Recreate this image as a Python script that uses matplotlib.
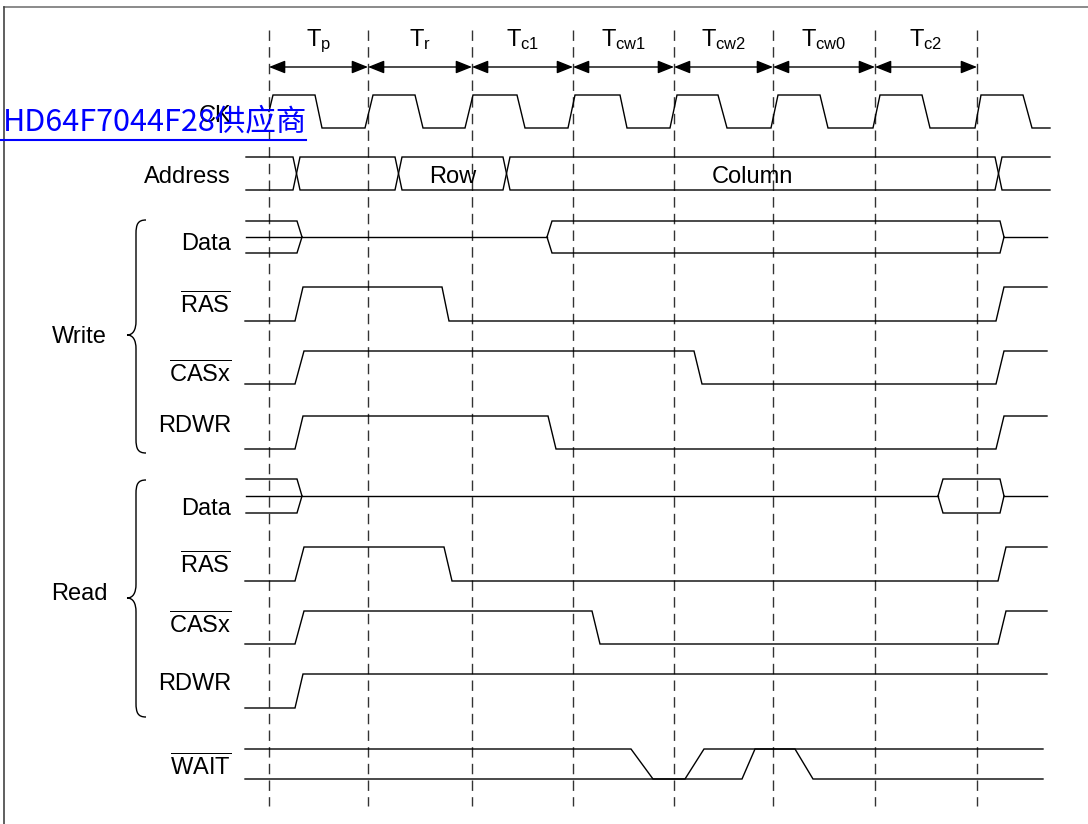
import numpy as np
import matplotlib.pyplot as plt
from matplotlib.path import Path
from matplotlib.patches import PathPatch

plt.rcParams['font.family'] = ['Liberation Sans', 'Noto Sans CJK SC']
plt.rcParams['mathtext.fontset'] = 'custom'
plt.rcParams['mathtext.rm'] = 'Liberation Sans'
plt.rcParams['mathtext.it'] = 'Liberation Sans:italic'

# time axis in drawing units, one bus cycle is about 101 units
cycle_bounds = [269, 368, 472, 573, 674, 773, 875, 977]
cycle_names = ['p', 'r', 'c1', 'cw1', 'cw2', 'cw0', 'c2']

# edges given as (start, end) of the slope
ck_rise = [(265, 273), (365, 373), (465, 473), (568, 575), (670, 677), (771, 778), (873, 880), (975, 981)]
ck_fall = [(315, 322), (415, 423), (517, 525), (620, 627), (718, 727), (820, 828), (922, 930), (1023, 1032)]

addr_cross = [(293, 300), (395, 402), (503, 510), (995, 1002)]
addr_values = ['', '', 'Row', 'Column', '']

w_data_edges = [(297, 302), (547, 552), (1000, 1004)]
w_ras_edges = [(295, 303), (442, 449), (996, 1004)]
w_cas_edges = [(295, 304), (694, 702), (996, 1004)]
w_rdwr_edges = [(295, 303), (548, 556), (996, 1004)]

r_data_edges = [(297, 302), (938, 943), (1000, 1004)]
r_ras_edges = [(295, 304), (444, 452), (998, 1006)]
r_cas_edges = [(295, 304), (592, 600), (998, 1006)]
r_rdwr_edges = [(295, 303)]

wait_a_edges = [(631, 653), (685, 704)]
wait_b_edges = [(742, 755), (795, 813)]

# row layout: (label, label baseline, y high, y low)
rows = {
    'ck': (r'CK', 122, 95, 128),
    'addr': ('Address', 183, 157, 190),
    'w_data': ('Data', 250, 221, 253),
    'w_ras': (r'$\overline{\mathrm{RAS}}$', 313, 287, 321),
    'w_cas': (r'$\overline{\mathrm{CASx}}$', 382, 351, 384),
    'w_rdwr': ('RDWR', 432, 416, 449),
    'r_data': ('Data', 515, 479, 513),
    'r_ras': (r'$\overline{\mathrm{RAS}}$', 573, 547, 581),
    'r_cas': (r'$\overline{\mathrm{CASx}}$', 633, 611, 644),
    'r_rdwr': ('RDWR', 690, 674, 708),
    'wait': (r'$\overline{\mathrm{WAIT}}$', 775, 749, 779),
}


def wave(edges, lv, x0, x1):
    xs, ys = [-1e5], [lv[0]]
    for i, (a, b) in enumerate(edges):
        xs += [a, b]
        ys += [lv[i % 2], lv[(i + 1) % 2]]
    xs.append(1e5)
    ys.append(lv[len(edges) % 2])
    xs = np.array(xs, float)
    ys = np.array(ys, float)
    xg = np.concatenate([[x0], xs[(xs > x0) & (xs < x1)], [x1]])
    return xg, np.interp(xg, xs, ys)


fig = plt.figure(figsize=(10.88, 8.24), dpi=100)
ax = fig.add_axes([0, 0, 1, 1])
ax.set_xlim(0, 1088)
ax.set_ylim(824, 0)
ax.axis('off')

LW = 1.0
K = 'black'


def draw(key, edges, lv, x0, x1, skip_mid=False):
    _, _, yh, yl = rows[key]
    xg, lev = wave(edges, lv, x0, x1)
    if skip_mid:
        # leave out the flat high-Z stretches, the middle line is drawn once
        px, py = [xg[0]], [lev[0]]
        for i in range(1, len(xg)):
            if lev[i] == 0.5 and lev[i - 1] == 0.5:
                px.append(np.nan)
                py.append(np.nan)
            px.append(xg[i])
            py.append(lev[i])
        xg, lev = np.array(px), np.array(py)
    ax.plot(xg, yl + (yh - yl) * lev, color=K, lw=LW, solid_joinstyle='miter')


def draw_tristate(key, edges, x0, x1):
    draw(key, edges, (1, 0.5), x0, x1, skip_mid=True)
    draw(key, edges, (0, 0.5), x0, x1, skip_mid=True)
    _, _, yh, yl = rows[key]
    ym = (yh + yl) / 2
    start = x0
    for i, (a, b) in enumerate(edges):
        if i % 2 == 1:
            ax.plot([start, a], [ym, ym], color=K, lw=LW)
            start = None
        elif i > 0:
            start = b
    if start is not None:
        ax.plot([start, x1], [ym, ym], color=K, lw=LW)


# frame
ax.plot([4, 1088], [7, 7], color='#777777', lw=1.2)
ax.plot([4, 4], [7, 824], color='#444444', lw=1.2)

# cycle boundaries
for b in cycle_bounds:
    ax.plot([b, b], [30, 806], color='#333333', lw=1.0, linestyle=(0, (7.5, 4.5)))

# cycle arrows and names
for i, name in enumerate(cycle_names):
    b0, b1 = cycle_bounds[i], cycle_bounds[i + 1]
    ax.annotate('', xy=(b1, 67), xytext=(b0, 67),
                arrowprops=dict(arrowstyle='<|-|>,head_length=0.55,head_width=0.22',
                                color=K, lw=LW, mutation_scale=18, shrinkA=0, shrinkB=0))
    ax.text((b0 + b1) / 2, 46, r'$\mathrm{T}_{\mathrm{%s}}$' % name,
            ha='center', va='baseline', fontsize=17)

# clock
draw('ck', sorted(ck_rise + ck_fall), (0, 1), 269, 1050)

# address bus
draw('addr', addr_cross, (1, 0), 246, 1050)
draw('addr', addr_cross, (0, 1), 246, 1050)
seg_x = [246] + [x for c in addr_cross for x in c] + [1050]
for i, val in enumerate(addr_values):
    if val:
        xm = (seg_x[2 * i] + seg_x[2 * i + 1]) / 2
        ax.text(xm, 183, val, ha='center', va='baseline', fontsize=17)

# write cycle
draw_tristate('w_data', w_data_edges, 246, 1047)
draw('w_ras', w_ras_edges, (0, 1), 245, 1047)
draw('w_cas', w_cas_edges, (0, 1), 245, 1047)
draw('w_rdwr', w_rdwr_edges, (0, 1), 245, 1047)

# read cycle
draw_tristate('r_data', r_data_edges, 246, 1047)
draw('r_ras', r_ras_edges, (0, 1), 245, 1047)
draw('r_cas', r_cas_edges, (0, 1), 245, 1047)
draw('r_rdwr', r_rdwr_edges, (0, 1), 245, 1047)

# wait
draw('wait', wait_a_edges, (1, 0), 245, 1043)
draw('wait', wait_b_edges, (0, 1), 245, 1043)

# signal names
for key, (label, yb, _, _) in rows.items():
    ax.text(231, yb, label, ha='right', va='baseline', fontsize=17)


def brace(top, tip, bot, x_end=146, x_line=136, x_tip=127):
    verts = [(x_end, top), (x_line + 2, top), (x_line, top + 4), (x_line, top + 14),
             (x_line, tip - 14),
             (x_line, tip - 5), (x_line - 3, tip), (x_tip, tip),
             (x_line - 3, tip), (x_line, tip + 5), (x_line, tip + 14),
             (x_line, bot - 14),
             (x_line, bot - 4), (x_line + 2, bot), (x_end, bot)]
    codes = [Path.MOVETO, Path.CURVE4, Path.CURVE4, Path.CURVE4,
             Path.LINETO,
             Path.CURVE4, Path.CURVE4, Path.CURVE4,
             Path.CURVE4, Path.CURVE4, Path.CURVE4,
             Path.LINETO,
             Path.CURVE4, Path.CURVE4, Path.CURVE4]
    ax.add_patch(PathPatch(Path(verts, codes), fill=False, color=K, lw=LW))


brace(220, 335, 453)
brace(480, 598, 717)
ax.text(79, 343, 'Write', ha='center', va='baseline', fontsize=17)
ax.text(79, 600, 'Read', ha='center', va='baseline', fontsize=17)

# supplier link overlay
ax.text(3, 130, 'HD64F7044F28供应商', color='#0000ff', fontsize=22,
        family=['Noto Sans CJK SC'], va='baseline', ha='left')
ax.plot([0, 306], [140, 140], color='#0000ff', lw=1.5)

fig.savefig('out.png', dpi=100)
